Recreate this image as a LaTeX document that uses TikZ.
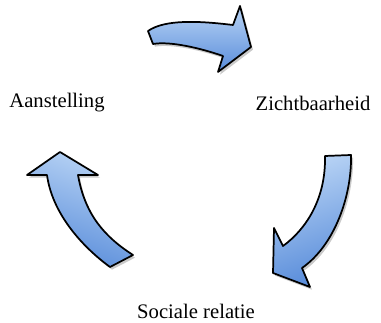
\documentclass[tikz,border=0pt]{standalone}
\usepackage{fontspec}
\setmainfont{Liberation Serif}
\usetikzlibrary{shadows}
\definecolor{arrlight}{RGB}{185,212,245}
\definecolor{arrdark}{RGB}{88,140,218}
\tikzset{
  arrowshape/.style={draw=black, line width=1.3pt, line join=round,
    top color=arrlight, bottom color=arrdark,
    drop shadow={shadow xshift=1.5pt, shadow yshift=-2pt, opacity=0.35, fill=black!60}},
  lbl/.style={font=\fontsize{15.5}{18}\selectfont, text=black, inner sep=0pt}
}
\begin{document}
\begin{tikzpicture}[x=0.75pt, y=-0.75pt]
\useasboundingbox (0,0) rectangle (381,323);
% top arrow
\path[arrowshape, shading angle=0] (148,31) .. controls (165,19) and (200,21) .. (233,25)
  -- (240,6) -- (251,47) -- (218,72) -- (223,56)
  .. controls (200,48) and (170,41) .. (153,44) -- cycle;
% right arrow
\path[arrowshape, shading angle=20] (325,156) -- (351,155)
  .. controls (352,195) and (335,245) .. (302,268)
  -- (310,287) -- (273,273) -- (274,228) -- (283,246)
  .. controls (305,230) and (326,200) .. cycle;
% left arrow
\path[arrowshape, shading angle=-20] (60,152) -- (98,175) -- (78,175)
  .. controls (85,215) and (105,237) .. (133,255)
  -- (110,267)
  .. controls (80,245) and (52,212) .. (47,175)
  -- (27,175) -- cycle;
\node[lbl] (aan) at (57,103) {Aanstelling};
\node[lbl] (zicht) at (313,103) {Zichtbaarheid};
\node[lbl] (soc) at (196,311) {Sociale relatie};
\end{tikzpicture}
\end{document}
